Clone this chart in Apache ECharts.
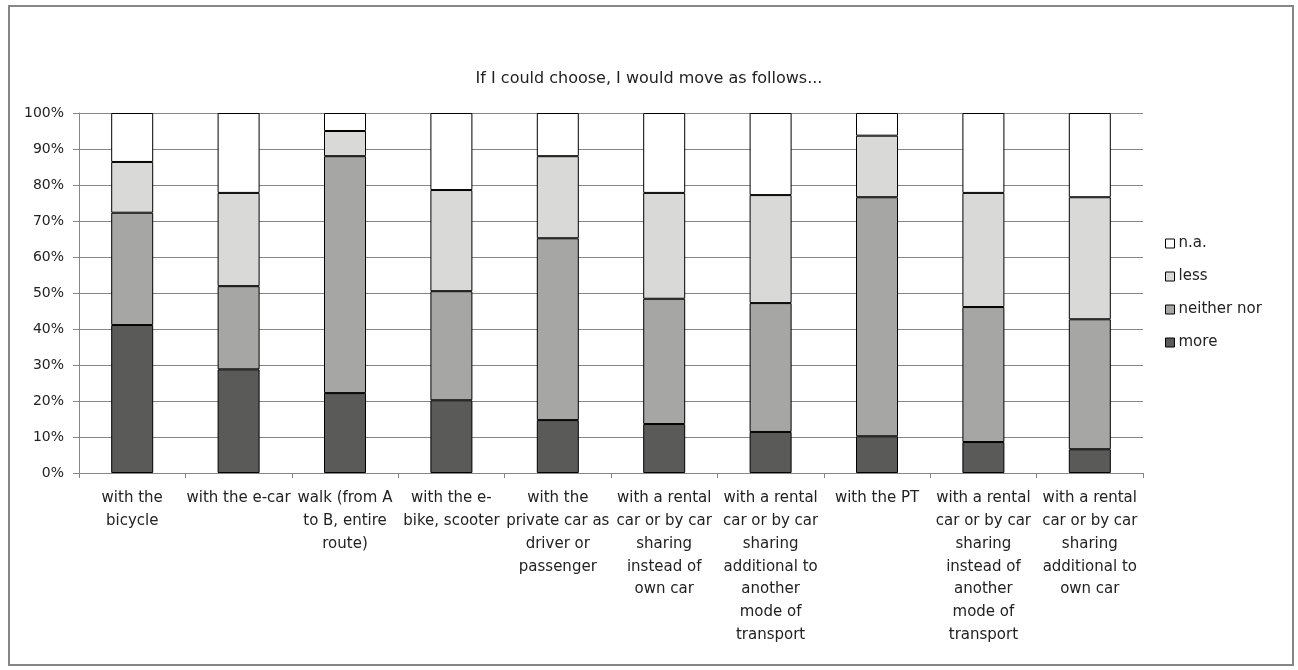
<!DOCTYPE html>
<html>
<head>
<meta charset="utf-8">
<script src="https://cdn.jsdelivr.net/npm/echarts@6/dist/echarts.min.js"></script>
<style>
  html, body { margin: 0; padding: 0; background: #fff; }
  #chart { width: 1298px; height: 670px; }
</style>
</head>
<body>
<div id="chart"></div>
<script>
// categories (line breaks as in the original chart)
const categories = [
  'with the\nbicycle',
  'with the e-car',
  'walk (from A\nto B, entire\nroute)',
  'with the e-\nbike, scooter',
  'with the\nprivate car as\ndriver or\npassenger',
  'with a rental\ncar or by car\nsharing\ninstead of\nown car',
  'with a rental\ncar or by car\nsharing\nadditional to\nanother\nmode of\ntransport',
  'with the PT',
  'with a rental\ncar or by car\nsharing\ninstead of\nanother\nmode of\ntransport',
  'with a rental\ncar or by car\nsharing\nadditional to\nown car'
];

// shares in percent
const more = [41.1, 28.8, 22.2, 20.2, 14.7, 13.6, 11.4, 10.2, 8.6, 6.6];
const neitherNor = [31.2, 23.1, 65.8, 30.3, 50.5, 34.8, 35.8, 66.4, 37.5, 36.1];
const less = [14.1, 25.9, 7.0, 28.1, 22.8, 29.4, 30.0, 17.1, 31.7, 33.9];
const na = [13.6, 22.2, 5.0, 21.4, 12.0, 22.2, 22.8, 6.3, 22.2, 23.4];

const yTicks = [0, 10, 20, 30, 40, 50, 60, 70, 80, 90, 100];

const font = '"DejaVu Sans", sans-serif';
const textColor = '#222';
const gridColor = '#868686';

const chart = echarts.init(document.getElementById('chart'));

function makeSeries(name, data, color) {
  return {
    name: name,
    type: 'bar',
    stack: 'total',
    barWidth: 42,
    data: data,
    itemStyle: { color: color, borderColor: '#000', borderWidth: 1 },
    emphasis: { disabled: true }
  };
}

chart.setOption({
  backgroundColor: '#fff',
  animation: false,
  title: {
    text: 'If I could choose, I would move as follows...',
    left: 'center',
    top: 66,
    textStyle: { fontFamily: font, fontSize: 16, fontWeight: 'normal', color: textColor }
  },
  graphic: [{
    type: 'rect',
    shape: { x: 9, y: 6, width: 1284, height: 659 },
    style: { fill: 'none', stroke: gridColor, lineWidth: 2 },
    silent: true
  }],
  legend: {
    orient: 'vertical',
    left: 1160,
    top: 231,
    itemWidth: 9,
    itemHeight: 9,
    itemGap: 18,
    icon: 'rect',
    data: ['n.a.', 'less', 'neither nor', 'more'],
    itemStyle: { borderColor: '#000', borderWidth: 1 },
    textStyle: { fontFamily: font, fontSize: 15, color: textColor, padding: [0, 0, 0, -1] }
  },
  grid: { left: 79, right: 155, top: 113, bottom: 197, containLabel: false },
  xAxis: {
    type: 'category',
    data: categories,
    axisLine: { lineStyle: { color: gridColor } },
    axisTick: { show: true, length: 5, lineStyle: { color: gridColor } },
    axisLabel: {
      interval: 0,
      margin: 14,
      fontFamily: font,
      fontSize: 15,
      lineHeight: 22.8,
      color: textColor,
      align: 'center'
    }
  },
  yAxis: {
    type: 'value',
    min: yTicks[0],
    max: yTicks[yTicks.length - 1],
    interval: 10,
    axisLine: { show: true, lineStyle: { color: gridColor } },
    axisTick: { show: true, length: 6, lineStyle: { color: gridColor } },
    splitLine: { lineStyle: { color: gridColor, width: 1 } },
    axisLabel: {
      margin: 15,
      fontFamily: font,
      fontSize: 14,
      color: textColor,
      formatter: v => v + '%'
    }
  },
  series: [
    makeSeries('more', more, '#5a5a59'),
    makeSeries('neither nor', neitherNor, '#a6a6a5'),
    makeSeries('less', less, '#d9d9d8'),
    makeSeries('n.a.', na, '#ffffff')
  ]
});
</script>
</body>
</html>
